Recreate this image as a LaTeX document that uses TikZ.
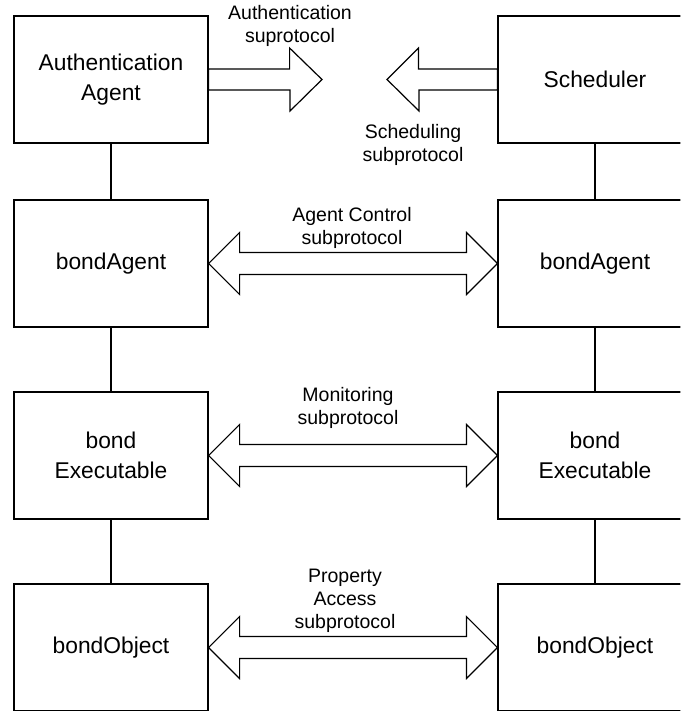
\documentclass[tikz,border=0pt]{standalone}
\usepackage{fontspec}
\setmainfont{Liberation Sans}
\usetikzlibrary{calc}

\begin{document}
\begin{tikzpicture}[x=1pt, y=-1pt,
  box/.style={draw, line width=1.2pt, minimum width=194pt, minimum height=127pt,
              align=center, font=\fontsize{22.8}{30}\selectfont},
  lbl/.style={align=center, font=\fontsize{19.5}{23}\selectfont},
  link/.style={line width=2pt},
  blockarrow/.style={draw, line width=1.2pt, line join=miter}]
  \useasboundingbox (0,0) rectangle (681,711);
  \clip (0,0) rectangle (680.4,710.3);

  % Left column
  \node[box] (auth)   at (111, 79.5)  {Authentication\\Agent};
  \node[box] (agentL) at (111, 263.5) {bondAgent};
  \node[box] (execL)  at (111, 455.5) {bond\\Executable};
  \node[box] (objL)   at (111, 647.5) {bondObject};

  % Right column (runs off the page)
  \node[box] (sched)  at (595, 79.5)  {Scheduler};
  \node[box] (agentR) at (595, 263.5) {bondAgent};
  \node[box] (execR)  at (595, 455.5) {bond\\Executable};
  \node[box] (objR)   at (595, 647.5) {bondObject};

  % Vertical links
  \draw[link] (auth.south)   -- (agentL.north);
  \draw[link] (agentL.south) -- (execL.north);
  \draw[link] (execL.south)  -- (objL.north);
  \draw[link] (sched.south)  -- (agentR.north);
  \draw[link] (agentR.south) -- (execR.north);
  \draw[link] (execR.south)  -- (objR.north);

  % Authentication and scheduling arrows
  \coordinate (authtip)  at (322, 79.5);
  \coordinate (schedtip) at (387, 79.5);
  \draw[blockarrow] ($(auth.east)+(0,-10.5)$) -- ++(81,0) -- ++(0,-21) -- (authtip)
    -- ++(-32,31.5) -- ++(0,-21) -- ($(auth.east)+(0,10.5)$) -- cycle;
  \draw[blockarrow] ($(sched.west)+(0,-10.5)$) -- ++(-79,0) -- ++(0,-21) -- (schedtip)
    -- ++(32,31.5) -- ++(0,-21) -- ($(sched.west)+(0,10.5)$) -- cycle;

  % Two-way arrows between the columns
  \draw[blockarrow] (agentL.east) -- ++(31,-31) -- ++(0,20) -- ($(agentR.west)+(-31,-11)$)
    -- ++(0,-20) -- (agentR.west) -- ++(-31,31) -- ++(0,-20)
    -- ($(agentL.east)+(31,11)$) -- ++(0,20) -- cycle;
  \draw[blockarrow] (execL.east) -- ++(31,-31) -- ++(0,20) -- ($(execR.west)+(-31,-11)$)
    -- ++(0,-20) -- (execR.west) -- ++(-31,31) -- ++(0,-20)
    -- ($(execL.east)+(31,11)$) -- ++(0,20) -- cycle;
  \draw[blockarrow] (objL.east) -- ++(31,-31) -- ++(0,20) -- ($(objR.west)+(-31,-11)$)
    -- ++(0,-20) -- (objR.west) -- ++(-31,31) -- ++(0,-20)
    -- ($(objL.east)+(31,11)$) -- ++(0,20) -- cycle;

  % Labels
  \node[lbl] (authlbl)  at (290, 26)  {Authentication\\suprotocol};
  \node[lbl] (schedlbl) at (413, 145) {Scheduling\\subprotocol};
  \node[lbl] (ctrllbl)  at (352, 228) {Agent Control\\subprotocol};
  \node[lbl] (monlbl)   at (348, 408) {Monitoring\\subprotocol};
  \node[lbl] (proplbl)  at (345, 601) {Property\\Access\\subprotocol};
\end{tikzpicture}
\end{document}
